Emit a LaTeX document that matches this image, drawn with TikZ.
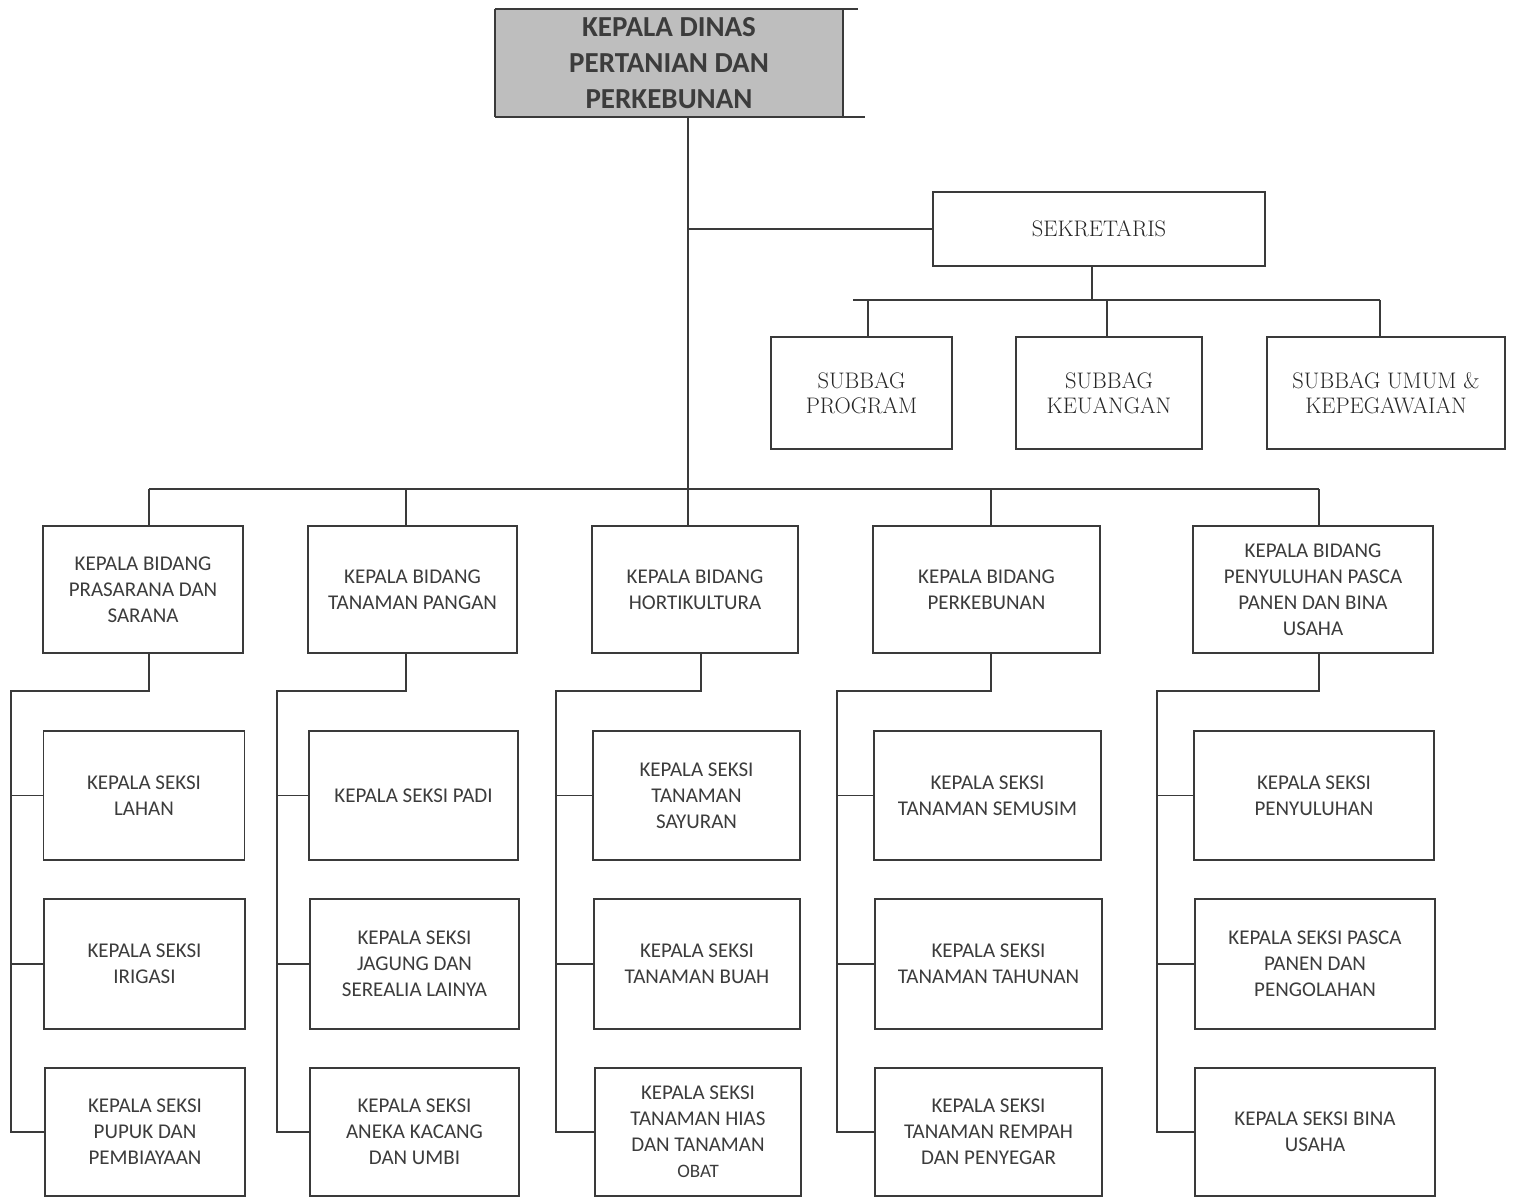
\documentclass[tikz,border=0pt]{standalone}
\usepackage{fontspec}
\newfontfamily\carl{Carlito}
\usetikzlibrary{calc}
\definecolor{ink}{HTML}{3A3A3A}
\definecolor{txt}{HTML}{3C3C3C}
\definecolor{headfill}{HTML}{BEBEBE}

\begin{document}
\begin{tikzpicture}[x=1pt,y=-1pt,
  conn/.style={draw=ink,line width=1.5pt},
  box/.style={draw=ink,line width=1.8pt,fill=white,align=center,text=txt,inner sep=0pt},
  sans/.style={font=\carl\fontsize{21}{26}\selectfont},
  serif/.style={font=\fontsize{22.5}{25.5}\selectfont,text=black!85},
  bidang/.style={box,sans,minimum height=127pt},
  seksi/.style={box,sans},
  subbag/.style={box,serif,minimum height=112pt},
]
\useasboundingbox (0,0) rectangle (1514,1196);

% ---- head of office ----
\node[fill=headfill,inner sep=0pt,minimum width=348pt,minimum height=108pt,
      align=center,text=txt,font=\carl\bfseries\fontsize{29}{36}\selectfont]
      (kadis) at (669,63) {KEPALA DINAS\\PERTANIAN DAN\\PERKEBUNAN};
\draw[conn,line width=1.6pt] (kadis.north west) -- ++(363,0);
\draw[conn,line width=1.6pt] (kadis.south west) -- ++(370,0);
\draw[conn,line width=1.6pt] (kadis.north west) -- (kadis.south west);
\draw[conn,line width=1.6pt] (kadis.north east) -- (kadis.south east);

% ---- secretariat ----
\node[box,serif,minimum width=332pt,minimum height=74pt] (sek) at (1099,229) {SEKRETARIS};
\node[subbag,minimum width=181pt] (sp1) at (861.5,393) {SUBBAG\\PROGRAM};
\node[subbag,minimum width=186pt] (sp2) at (1109,393) {SUBBAG\\KEUANGAN};
\node[subbag,minimum width=238pt] (sp3) at (1386,393) {SUBBAG UMUM \&\\KEPEGAWAIAN};

% ---- divisions ----
\node[bidang,minimum width=200pt] (b1) at (143,589.5) {KEPALA BIDANG\\PRASARANA DAN\\SARANA};
\node[bidang,minimum width=209pt] (b2) at (412.5,589.5) {KEPALA BIDANG\\TANAMAN PANGAN};
\node[bidang,minimum width=206pt] (b3) at (695,589.5) {KEPALA BIDANG\\HORTIKULTURA};
\node[bidang,minimum width=227pt] (b4) at (986.5,589.5) {KEPALA BIDANG\\PERKEBUNAN};
\node[bidang,minimum width=240pt] (b5) at (1313,589.5) {KEPALA BIDANG\\PENYULUHAN PASCA\\PANEN DAN BINA\\USAHA};

% ---- sections, column 1 ----
\node[seksi,minimum width=201pt,minimum height=129pt] (k11) at (144,795.5) {KEPALA SEKSI\\LAHAN};
\node[seksi,minimum width=201pt,minimum height=130pt] (k12) at (144.5,964) {KEPALA SEKSI\\IRIGASI};
\node[seksi,minimum width=200pt,minimum height=128pt] (k13) at (145,1132) {KEPALA SEKSI\\PUPUK DAN\\PEMBIAYAAN};
% column 2
\node[seksi,minimum width=209pt,minimum height=129pt] (k21) at (413.5,795.5) {KEPALA SEKSI PADI};
\node[seksi,minimum width=209pt,minimum height=130pt] (k22) at (414.5,964) {KEPALA SEKSI\\JAGUNG DAN\\SEREALIA LAINYA};
\node[seksi,minimum width=209pt,minimum height=128pt] (k23) at (414.5,1132) {KEPALA SEKSI\\ANEKA KACANG\\DAN UMBI};
% column 3
\node[seksi,minimum width=207pt,minimum height=129pt] (k31) at (696.5,795.5) {KEPALA SEKSI\\TANAMAN\\SAYURAN};
\node[seksi,minimum width=206pt,minimum height=130pt] (k32) at (697,964) {KEPALA SEKSI\\TANAMAN BUAH};
\node[seksi,minimum width=206pt,minimum height=128pt] (k33) at (698,1132) {KEPALA SEKSI\\TANAMAN HIAS\\DAN TANAMAN\\{\fontsize{19}{24}\selectfont OBAT}};
% column 4
\node[seksi,minimum width=227pt,minimum height=129pt] (k41) at (987.5,795.5) {KEPALA SEKSI\\TANAMAN SEMUSIM};
\node[seksi,minimum width=227pt,minimum height=130pt] (k42) at (988.5,964) {KEPALA SEKSI\\TANAMAN TAHUNAN};
\node[seksi,minimum width=227pt,minimum height=128pt] (k43) at (988.5,1132) {KEPALA SEKSI\\TANAMAN REMPAH\\DAN PENYEGAR};
% column 5
\node[seksi,minimum width=240pt,minimum height=129pt] (k51) at (1314,795.5) {KEPALA SEKSI\\PENYULUHAN};
\node[seksi,minimum width=240pt,minimum height=130pt] (k52) at (1315,964) {KEPALA SEKSI PASCA\\PANEN DAN\\PENGOLAHAN};
\node[seksi,minimum width=240pt,minimum height=128pt] (k53) at (1315,1132) {KEPALA SEKSI BINA\\USAHA};

% ---- main trunk and secretariat link ----
\coordinate (t0) at ([xshift=19pt]kadis.south);
\draw[conn] (t0) -- (t0 |- b3.north);
\draw[conn] (t0 |- sek.west) -- (sek.west);

% secretariat to sub-sections
\draw[conn] ([xshift=-7pt]sek.south) -- ++(0,34);
\coordinate (sbL) at (853,300);
\coordinate (sbR) at (1380,300);
\coordinate (sd1) at (868,300);
\coordinate (sd2) at (1107,300);
\draw[conn] (sbL) -- (sbR);
\draw[conn] (sd1) -- (sd1 |- sp1.north);
\draw[conn] (sd2) -- (sd2 |- sp2.north);
\draw[conn] (sbR) -- (sbR |- sp3.north);

% ---- division bus ----
\coordinate (bb1) at (149,489);
\coordinate (bb2) at (406,489);
\coordinate (bb4) at (991,489);
\coordinate (bb5) at (1319,489);
\draw[conn] (bb1) -- (bb5);
\draw[conn] (bb1) -- (bb1 |- b1.north);
\draw[conn] (bb2) -- (bb2 |- b2.north);
\draw[conn] (bb4) -- (bb4 |- b4.north);
\draw[conn] (bb5) -- (bb5 |- b5.north);

% ---- section trunks ----
\coordinate (c1) at (11,691);
\coordinate (c2) at (277,691);
\coordinate (c3) at (556,691);
\coordinate (c4) at (837,691);
\coordinate (c5) at (1157,691);

\draw[conn] (bb1 |- b1.south) |- (c1) -- (c1 |- k13.west) -- (k13.west);
\draw[conn] (c1 |- k11.west) -- (k11.west);
\draw[conn] (c1 |- k12.west) -- (k12.west);

\draw[conn] (bb2 |- b2.south) |- (c2) -- (c2 |- k23.west) -- (k23.west);
\draw[conn] (c2 |- k21.west) -- (k21.west);
\draw[conn] (c2 |- k22.west) -- (k22.west);

\draw[conn] ([xshift=6pt]b3.south) |- (c3) -- (c3 |- k33.west) -- (k33.west);
\draw[conn] (c3 |- k31.west) -- (k31.west);
\draw[conn] (c3 |- k32.west) -- (k32.west);

\draw[conn] (bb4 |- b4.south) |- (c4) -- (c4 |- k43.west) -- (k43.west);
\draw[conn] (c4 |- k41.west) -- (k41.west);
\draw[conn] (c4 |- k42.west) -- (k42.west);

\draw[conn] (bb5 |- b5.south) |- (c5) -- (c5 |- k53.west) -- (k53.west);
\draw[conn] (c5 |- k51.west) -- (k51.west);
\draw[conn] (c5 |- k52.west) -- (k52.west);
\end{tikzpicture}
\end{document}
